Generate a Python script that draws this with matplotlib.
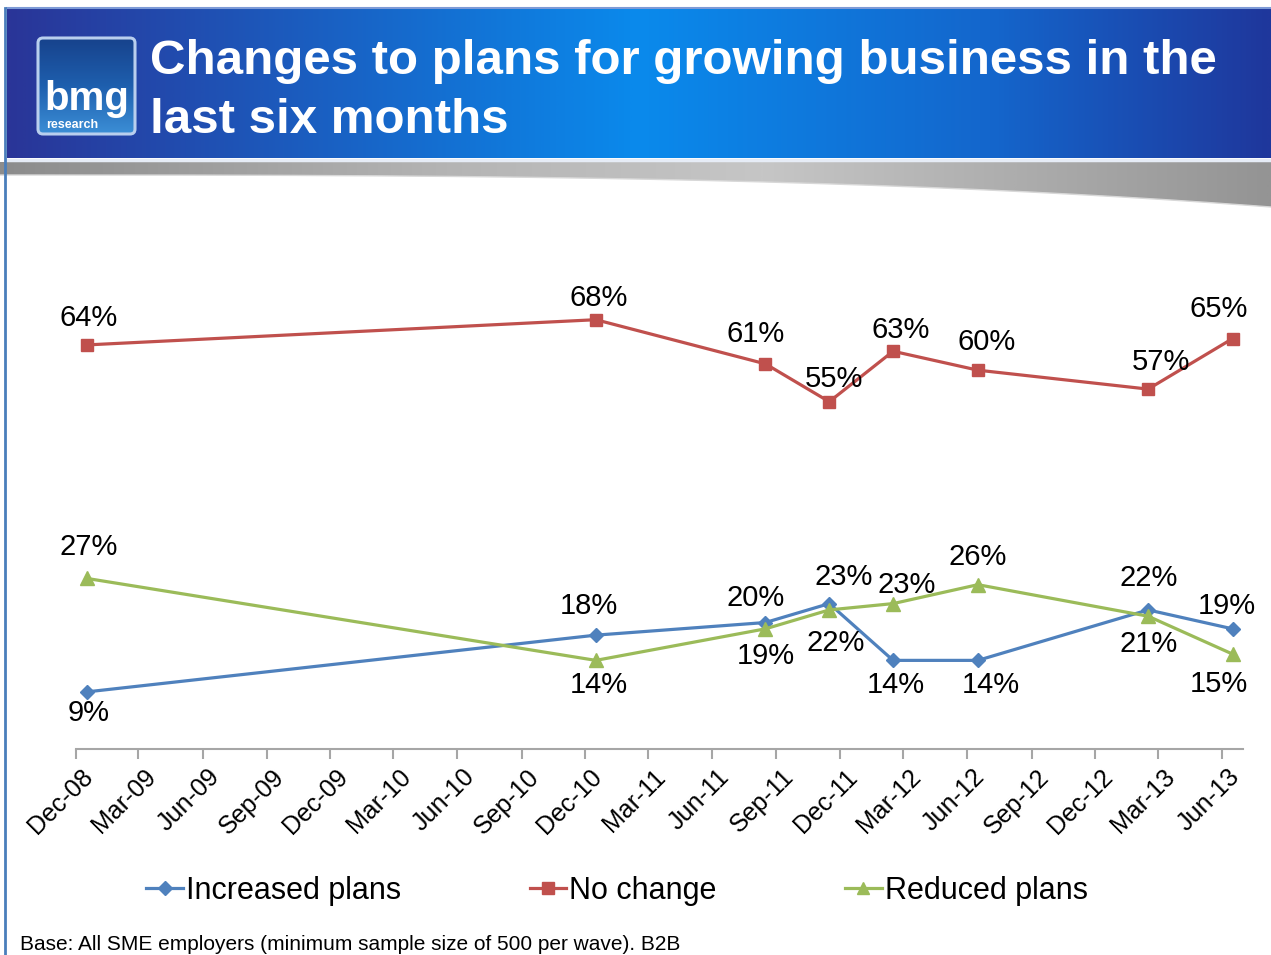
import numpy as np
import pandas as pd
import matplotlib
matplotlib.use("Agg")
import matplotlib.pyplot as plt
import matplotlib.dates as mdates
from matplotlib.patches import Polygon, FancyBboxPatch
from matplotlib.colors import LinearSegmentedColormap

plt.rcParams["font.family"] = ["Liberation Sans", "DejaVu Sans"]

# Survey waves (month of fieldwork) and share of SME employers per answer
waves = ["2008-12", "2010-12", "2011-08", "2011-11", "2012-02", "2012-06", "2013-02", "2013-06"]
increased = [9, 18, 20, 23, 14, 14, 22, 19]
no_change = [64, 68, 61, 55, 63, 60, 57, 65]
reduced = [27, 14, 19, 22, 23, 26, 21, 15]

series_names = ["Increased plans", "No change", "Reduced plans"]
title_lines = ["Changes to plans for growing business in the", "last six months"]
base_note = "Base: All SME employers (minimum sample size of 500 per wave). B2B"

# label nudges in pixels (dx, dy) for each point, dy > 0 is upwards
label_offsets = {
    "Increased plans": [(2, -21), (-7, 29), (-10, 25), (14, 27), (3, -25), (13, -25), (1, 32), (-6, 23)],
    "No change": [(2, 27), (3, 22), (-10, 30), (5, 23), (8, 21), (9, 28), (13, 27), (-14, 30)],
    "Reduced plans": [(2, 31), (3, -25), (0, -27), (6, -33), (14, 19), (0, 28), (1, -28), (-14, -30)],
}
styles = {
    "Increased plans": dict(color="#4f81bd", marker="D", ms=7.5),
    "No change": dict(color="#c0504d", marker="s", ms=9),
    "Reduced plans": dict(color="#9bbb59", marker="^", ms=9.5),
}

W, H = 1271, 955
fig = plt.figure(figsize=(W / 100, H / 100), dpi=100)

# --- slide decoration drawn in pixel coordinates ---
bg = fig.add_axes([0, 0, 1, 1], zorder=0)
bg.set_xlim(0, W)
bg.set_ylim(H, 0)
bg.axis("off")

header_cmap = LinearSegmentedColormap.from_list(
    "header", [(0.0, "#2a3598"), (0.5, "#0a8aec"), (0.78, "#1466cc"), (1.0, "#1f379c")])
grad = np.linspace(0, 1, 512).reshape(1, -1)
bg.imshow(grad, cmap=header_cmap, aspect="auto", extent=(7, W, 158, 9), zorder=1)
bg.plot([7, W], [8.5, 8.5], color="#7d9ad6", lw=1.5, zorder=2)
bg.plot([7, W], [160, 160], color="#e6ecf6", lw=2.5, zorder=2)

# grey swoosh under the header
xs = np.linspace(0, W, 200)
bottom = 175 + 32 * (xs / W) ** 3
swoosh = Polygon(np.column_stack([np.r_[xs, xs[::-1]], np.r_[bottom, np.full_like(xs, 162)]]),
                 closed=True, facecolor="none", edgecolor="none")
bg.add_patch(swoosh)
grey_cmap = LinearSegmentedColormap.from_list(
    "swoosh", [(0.0, "#8c8c8c"), (0.35, "#b4b4b4"), (0.6, "#c6c6c6"), (0.8, "#adadad"), (1.0, "#949494")])
im = bg.imshow(grad, cmap=grey_cmap, aspect="auto", extent=(0, W, 210, 162), zorder=1)
im.set_clip_path(swoosh)
bg.plot(xs, bottom, color="#d8d8d8", lw=1, zorder=2)

# slide border on the left
bg.plot([5, 5], [8, H], color="#4a7ebb", lw=2, zorder=3)

# logo
logo = FancyBboxPatch((38, 38), 97, 96, boxstyle="round,pad=0,rounding_size=5",
                      facecolor="none", edgecolor="#b9cfee", lw=2.2, zorder=4)
bg.add_patch(logo)
logo_cmap = LinearSegmentedColormap.from_list("logo", ["#17428c", "#1e5fae", "#3c8fd6"])
lim = bg.imshow(np.linspace(0, 1, 256).reshape(-1, 1), cmap=logo_cmap, aspect="auto",
                extent=(38, 135, 134, 38), zorder=3)
lim.set_clip_path(logo)
bg.text(87, 110, "bmg", color="white", fontsize=29, fontweight="bold",
        ha="center", va="baseline", zorder=5)
bg.text(72, 128, "research", color="white", fontsize=9, fontweight="bold",
        ha="center", va="baseline", zorder=5)

# title
bg.text(150, 74, title_lines[0], color="white", fontsize=35.5, fontweight="bold",
        va="baseline", ha="left", zorder=5)
bg.text(150, 133, title_lines[1], color="white", fontsize=35.5, fontweight="bold",
        va="baseline", ha="left", zorder=5)

bg.text(20, 950, base_note, fontsize=15, color="black", va="baseline", ha="left")

# --- line chart ---
ax = fig.add_axes([75.7 / W, (H - 748.7) / H, (1243 - 75.7) / W, (748.7 - 244) / H], zorder=2)
ax.patch.set_alpha(0)

x = []
for w in waves:
    p = pd.Period(w, "M")
    x.append(p.start_time + (p.end_time - p.start_time) / 2)
x = mdates.date2num(x)

for name, vals in zip(series_names, [increased, no_change, reduced]):
    st = styles[name]
    ax.plot(x, vals, color=st["color"], lw=2.3, marker=st["marker"], ms=st["ms"],
            mec=st["color"], mfc=st["color"], label=name, clip_on=False)
    for xi, v, (dx, dy) in zip(x, vals, label_offsets[name]):
        ax.annotate(f"{v}%", (xi, v), xytext=(dx, dy), textcoords="offset pixels",
                    ha="center", va="center", fontsize=21, color="black")

ax.set_xlim(mdates.date2num(pd.Timestamp("2008-12-01")), mdates.date2num(pd.Timestamp("2013-07-01")))
ax.set_ylim(0, 80)

# quarterly ticks; labels drawn by hand so they can sit slightly right of the tick
ticks = pd.date_range("2008-12-01", "2013-06-01", freq="3MS")
tick_pos = mdates.date2num(ticks)
ax.set_xticks(tick_pos)
ax.set_xticklabels([])
for t, lab in zip(tick_pos, [t.strftime("%b-%y") for t in ticks]):
    ax.annotate(lab, (t, 0), xycoords=("data", "axes fraction"), xytext=(5, -16),
                textcoords="offset pixels", rotation=45, ha="right", va="top",
                rotation_mode="anchor", fontsize=18, annotation_clip=False)
ax.set_yticks([])
for side in ["top", "right", "left"]:
    ax.spines[side].set_visible(False)
ax.spines["bottom"].set_color("#a6a6a6")
ax.spines["bottom"].set_linewidth(1.5)
ax.tick_params(axis="x", direction="out", length=7, width=1.5, color="#a6a6a6")

ax.legend(loc="center", bbox_to_anchor=(617 / W, 64 / H), bbox_transform=fig.transFigure,
          ncol=3, frameon=False, fontsize=22, handlelength=1.2, handletextpad=0.1,
          columnspacing=4.2, markerscale=0.9)

fig.savefig("out.png", dpi=100)
